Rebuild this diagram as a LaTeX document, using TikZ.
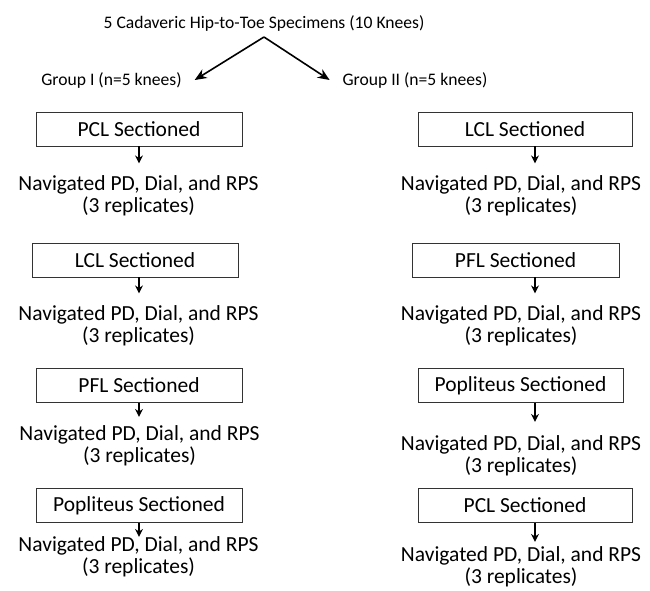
\documentclass[tikz,border=0pt]{standalone}
\usepackage{fontspec}
\setmainfont{Carlito}
\usetikzlibrary{arrows.meta,positioning}

\begin{document}
\begin{tikzpicture}[x=1pt,y=-1pt,font=\fontsize{21.5}{22}\selectfont,>=Stealth,
 cut/.style={draw=black!80,thick,minimum height=34pt,inner sep=0pt},
 nav/.style={align=center,inner sep=0pt},
 head/.style={inner sep=0pt,font=\fontsize{17.6}{20}\selectfont},
 grp/.style={head,outer xsep=13pt},
 dn/.style={line width=1.6pt,-{Stealth[length=8pt,width=8pt]}}]
\useasboundingbox (0,0) rectangle (650,590);
\node[head] (title) at (264,23) {5 Cadaveric Hip-to-Toe Specimens (10 Knees)};
\coordinate (apex) at (264,37);
\node[grp] (g1) at (111.5,80) {Group I (n=5 knees)};
\node[grp] (g2) at (415,80) {Group II (n=5 knees)};
\draw[line width=1.6pt,-{Stealth[length=12pt,width=10pt]}] (apex)--(g1.east);
\draw[line width=1.6pt,-{Stealth[length=12pt,width=10pt]}] (apex)--(g2.west);
% group I
\node[cut,minimum width=206pt] (l1) at (139,129) {PCL Sectioned};
\node[nav] (nl1) at (138.5,196) {Navigated PD, Dial, and RPS\\(3 replicates)};
\node[cut,minimum width=206pt] (l2) at (135,260) {LCL Sectioned};
\node[nav] (nl2) at (138.5,326) {Navigated PD, Dial, and RPS\\(3 replicates)};
\node[cut,minimum width=206pt] (l3) at (139,385.5) {PFL Sectioned};
\node[nav] (nl3) at (139.5,445.5) {Navigated PD, Dial, and RPS\\(3 replicates)};
\node[cut,minimum width=206pt] (l4) at (139,505.5) {Popliteus Sectioned};
\node[nav] (nl4) at (138.5,557) {Navigated PD, Dial, and RPS\\(3 replicates)};
% group II
\node[cut,minimum width=214pt] (r1) at (525,129) {LCL Sectioned};
\node[nav] (nr1) at (521,196) {Navigated PD, Dial, and RPS\\(3 replicates)};
\node[cut,minimum width=207pt] (r2) at (515.5,260) {PFL Sectioned};
\node[nav] (nr2) at (521,326) {Navigated PD, Dial, and RPS\\(3 replicates)};
\node[cut,minimum width=205pt] (r3) at (520.5,385.5) {Popliteus Sectioned};
\node[nav] (nr3) at (521,456) {Navigated PD, Dial, and RPS\\(3 replicates)};
\node[cut,minimum width=214pt] (r4) at (525,505.5) {PCL Sectioned};
\node[nav] (nr4) at (521,567) {Navigated PD, Dial, and RPS\\(3 replicates)};
\coordinate (axl) at (139,0);
\coordinate (axr) at (535,0);
\foreach \b/\len in {l1/17,l2/16,l3/14,l4/14}{\draw[dn] (\b.south -| axl) -- ++(0,\len);}
\foreach \b/\len in {r1/17,r2/16,r3/19,r4/19}{\draw[dn] (\b.south -| axr) -- ++(0,\len);}
\end{tikzpicture}
\end{document}
